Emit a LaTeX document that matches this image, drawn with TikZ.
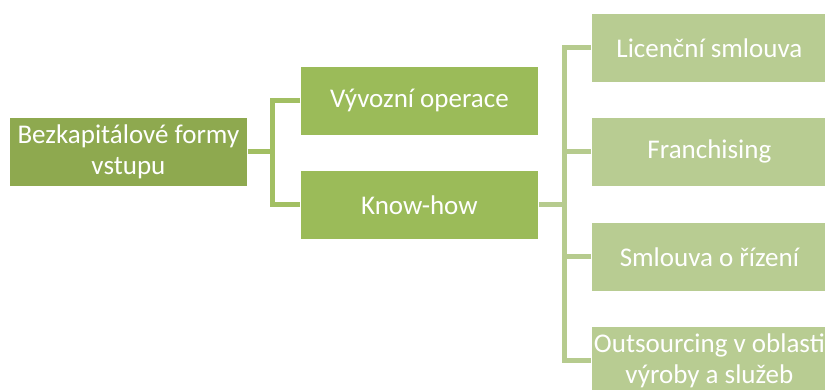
\documentclass[tikz,border=0pt]{standalone}
\usepackage{fontspec}
\setmainfont{Carlito}
\definecolor{rootc}{HTML}{8EA94F}
\definecolor{midc}{HTML}{9BBB59}
\definecolor{leafc}{HTML}{B8CC92}
\definecolor{conA}{HTML}{A2BF63}
\definecolor{conB}{HTML}{B6CB8E}
\begin{document}
\begin{tikzpicture}[x=1pt,y=-1pt,
  box/.style={draw=white,line width=0.8pt,minimum width=238pt,minimum height=69pt,
    text=white,font=\fontsize{27}{31}\selectfont,align=center,inner sep=0pt,anchor=north west},
  rootbox/.style={box,fill=rootc},
  midbox/.style={box,fill=midc},
  leafbox/.style={box,fill=leafc,minimum width=236pt},
  conn/.style={line width=5pt},
]
\useasboundingbox (0,0) rectangle (825,389);
\begin{scope}
\clip (0,0) rectangle (825,389);
\node[rootbox] (root) at (9,117) {Bezkapitálové formy\\vstupu};
\node[midbox] (vyv) at (300,66) {Vývozní operace};
\node[midbox] (know) at (300,170) {Know-how};
\node[leafbox] (lic) at (591,13) {Licenční smlouva};
\node[leafbox] (fra) at (591,117) {Franchising};
\node[leafbox] (sml) at (591,222) {Smlouva o řízení};
\node[leafbox] (out) at (591,326) {Outsourcing v oblasti\\výroby a služeb};

\coordinate (j1) at (272,0);
\coordinate (j2) at (564,0);
\draw[conn,draw=conA,line join=miter] (root.east) -- (root.east -| j1);
\draw[conn,draw=conA,line join=miter] (vyv.west) -- (vyv.west -| j1) -- (know.west -| j1) -- (know.west);
\draw[conn,draw=conB] (know.east) -- (know.east -| j2);
\draw[conn,draw=conB,line join=miter] (lic.west) -- (lic.west -| j2) -- (out.west -| j2) -- (out.west);
\draw[conn,draw=conB] (fra.west) -- (fra.west -| j2);
\draw[conn,draw=conB] (sml.west) -- (sml.west -| j2);
\end{scope}
\end{tikzpicture}
\end{document}
